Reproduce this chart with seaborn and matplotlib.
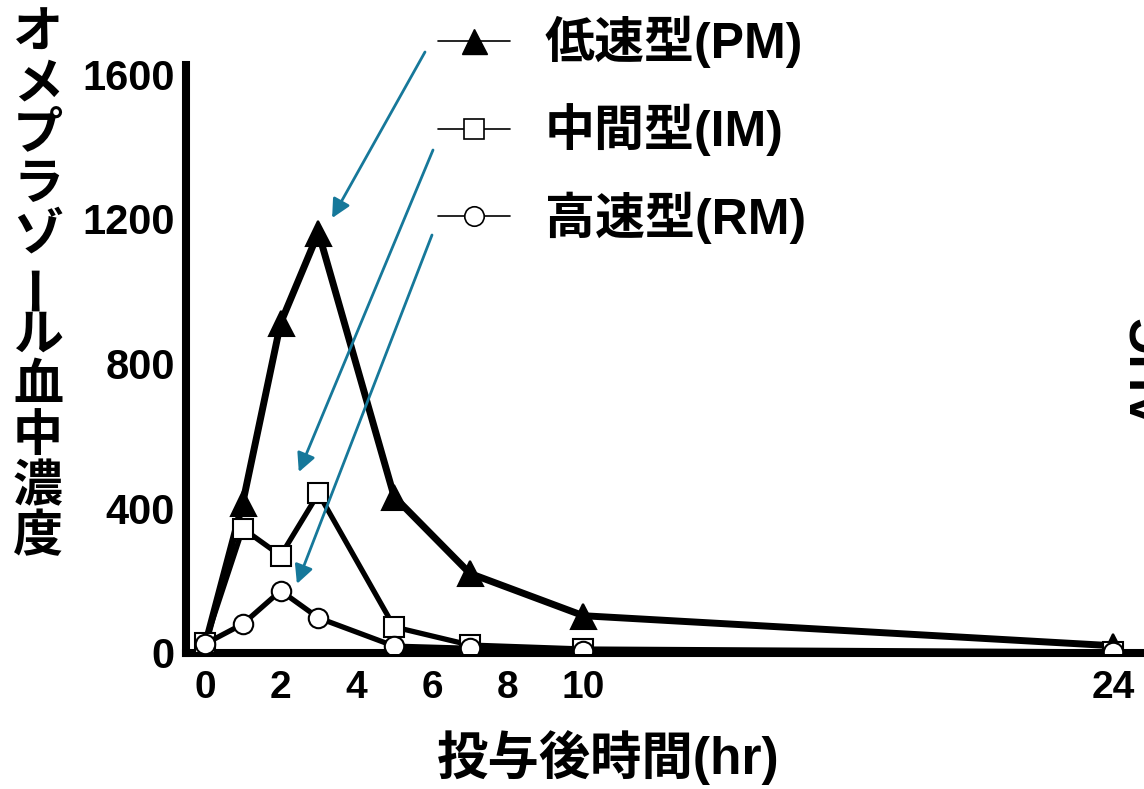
import numpy as np
import pandas as pd
import matplotlib.pyplot as plt
import seaborn as sns
from matplotlib.lines import Line2D

# omeprazole plasma concentration vs. time after dosing
hours = [0, 1, 2, 3, 5, 7, 10, 24]
pm_conc = [20, 415, 912, 1162, 432, 220, 103, 20]
im_conc = [27, 344, 269, 441, 72, 22, 11, 3]
rm_conc = [25, 80, 172, 97, 19, 13, 5, 2]

series_labels = ['低速型(PM)', '中間型(IM)', '高速型(RM)']
x_ticks = [0, 2, 4, 6, 8, 10, 24]
y_ticks = [0, 400, 800, 1200, 1600]
ylabel_text = 'オメプラゾール血中濃度'
xlabel_text = '投与後時間(hr)'

# arrow tips (data coords) and tails (figure fraction)
arrow_tips = [(3.36, 1202), (2.48, 500), (2.43, 191)]
arrow_tails = [(425 / 1144, 1 - 52 / 789), (433 / 1144, 1 - 150 / 789), (432 / 1144, 1 - 235 / 789)]

sns.set_style('white')
plt.rcParams['font.family'] = ['Liberation Sans', 'Noto Sans CJK JP']
plt.rcParams['font.weight'] = 'bold'
for key in ['text.color', 'axes.labelcolor', 'xtick.color', 'ytick.color']:
    plt.rcParams[key] = 'black'

df = pd.DataFrame({
    'hour': hours * 3,
    'conc': pm_conc + im_conc + rm_conc,
    'type': np.repeat(series_labels, len(hours)),
})

fig = plt.figure(figsize=(11.44, 7.89), dpi=100)
ax = fig.add_axes([186 / 1144, 136 / 789, 1 - 186 / 1144, 588 / 789])

styles = {
    series_labels[0]: dict(marker='^', markersize=18, markerfacecolor='black', lw=5),
    series_labels[1]: dict(marker='s', markersize=14.5, markerfacecolor='white', lw=3.8),
    series_labels[2]: dict(marker='o', markersize=14, markerfacecolor='white', lw=3.8),
}
for lab in series_labels:
    sub = df[df['type'] == lab]
    sns.lineplot(data=sub, x='hour', y='conc', ax=ax, color='black',
                 markeredgecolor='black', markeredgewidth=1.5, zorder=3,
                 legend=False, **styles[lab])

ax.set_xlim(-0.5, 24.81)
ax.set_ylim(0, 1625)
ax.set_xticks(x_ticks)
ax.set_yticks(y_ticks)
ax.tick_params(axis='both', length=0, colors='black')
ax.tick_params(axis='x', pad=12, labelsize=28)
ax.tick_params(axis='y', pad=8, labelsize=30)
ax.set_xlabel('')
ax.set_ylabel('')
for side in ['top', 'right']:
    ax.spines[side].set_visible(False)
for side in ['left', 'bottom']:
    ax.spines[side].set_linewidth(5.8)
    ax.spines[side].set_color('black')
    ax.spines[side].set_capstyle('projecting')

# x label
fig.text(608 / 1144, 1 - 758 / 789, xlabel_text, ha='center', va='center',
         fontsize=37, fontweight='bold')

# stacked y label
for i, ch in enumerate(ylabel_text):
    fig.text(38 / 1144, 1 - (35 + i * 50.3) / 789, ch, ha='center', va='center',
             fontsize=36, fontweight='bold', rotation=90 if ch == 'ー' else 0)

# legend
handles = [
    Line2D([], [], color='black', lw=1.2, marker='^', markersize=18, markerfacecolor='black', markeredgecolor='black'),
    Line2D([], [], color='black', lw=1.2, marker='s', markersize=14, markerfacecolor='white', markeredgecolor='black', markeredgewidth=1.2),
    Line2D([], [], color='black', lw=1.2, marker='o', markersize=14, markerfacecolor='white', markeredgecolor='black', markeredgewidth=1.2),
]
ax.legend(handles, series_labels, loc='upper left', bbox_to_anchor=(438 / 1144, 1 - 16 / 789),
          bbox_transform=fig.transFigure, frameon=False, handlelength=1.44, handletextpad=0.7,
          labelspacing=0.7, borderpad=0, borderaxespad=0,
          prop={'size': 36, 'weight': 'bold'})

# blue arrows
for tip, tail in zip(arrow_tips, arrow_tails):
    ax.annotate('', xy=tip, xycoords='data', xytext=tail, textcoords='figure fraction',
                arrowprops=dict(arrowstyle='-|>', color='#16789a', lw=2, mutation_scale=28,
                                shrinkA=0, shrinkB=0))

# partially visible label at the right edge (cut off in the source too)
fig.text(1153 / 1144, 1 - 370 / 789, 'AUC', rotation=90, ha='center', va='center',
         fontsize=37, fontweight='bold')

fig.savefig('out.png', dpi=100)
